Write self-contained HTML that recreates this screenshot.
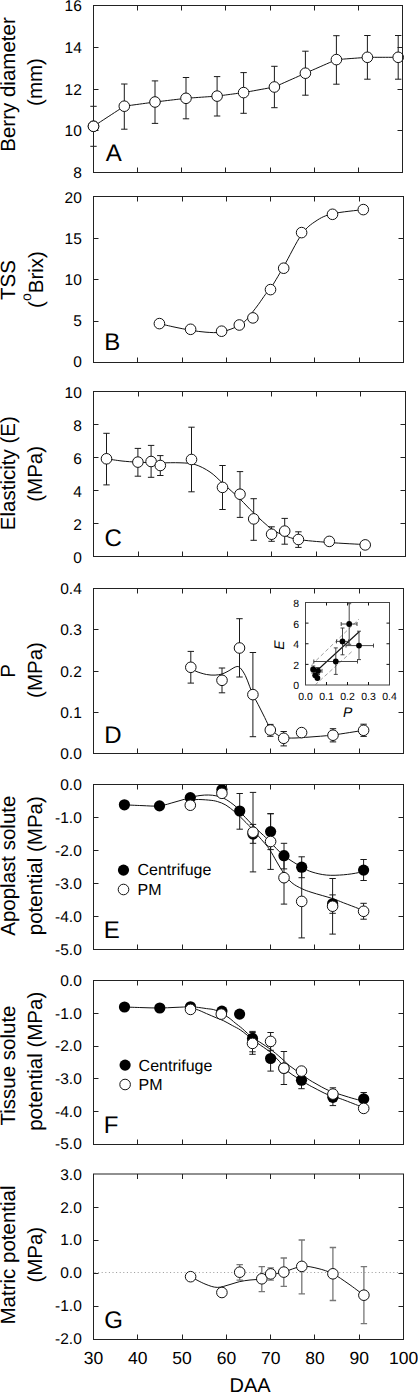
<!DOCTYPE html><html><head><meta charset="utf-8"><style>
html,body{margin:0;padding:0;background:#fff;overflow:hidden;}svg{display:block;}
text{font-family:"Liberation Sans", sans-serif;fill:#000;text-rendering:geometricPrecision;}
</style></head><body>
<svg width="418" height="1393" viewBox="0 0 418 1393">
<rect width="418" height="1393" fill="#fff"/>
<text x="81.8" y="178.1" font-size="15.5" text-anchor="end">8</text>
<text x="81.8" y="136.35" font-size="15.5" text-anchor="end">10</text>
<text x="81.8" y="94.6" font-size="15.5" text-anchor="end">12</text>
<text x="81.8" y="52.85" font-size="15.5" text-anchor="end">14</text>
<text x="81.8" y="11.1" font-size="15.5" text-anchor="end">16</text>
<text x="105.8" y="161.4" font-size="24">A</text>
<text transform="translate(15.3,84.5) rotate(-90)" font-size="20.5" text-anchor="middle">Berry diameter</text>
<text transform="translate(42.3,82) rotate(-90)" font-size="20.5" text-anchor="middle">(mm)</text>
<text x="81.8" y="367.2" font-size="15.5" text-anchor="end">0</text>
<text x="81.8" y="326.08" font-size="15.5" text-anchor="end">5</text>
<text x="81.8" y="284.95" font-size="15.5" text-anchor="end">10</text>
<text x="81.8" y="243.82" font-size="15.5" text-anchor="end">15</text>
<text x="81.8" y="202.7" font-size="15.5" text-anchor="end">20</text>
<text x="104.3" y="350.4" font-size="24">B</text>
<text transform="translate(15.3,280) rotate(-90)" font-size="20.5" text-anchor="middle">TSS</text>
<text transform="translate(43.3,279.5) rotate(-90)" font-size="20.5" text-anchor="middle">(<tspan font-size="14" dy="-12.4">o</tspan><tspan dy="12.4">Brix)</tspan></text>
<text x="81.8" y="563.3" font-size="15.5" text-anchor="end">0</text>
<text x="81.8" y="530.3" font-size="15.5" text-anchor="end">2</text>
<text x="81.8" y="497.3" font-size="15.5" text-anchor="end">4</text>
<text x="81.8" y="464.3" font-size="15.5" text-anchor="end">6</text>
<text x="81.8" y="431.3" font-size="15.5" text-anchor="end">8</text>
<text x="81.8" y="398.3" font-size="15.5" text-anchor="end">10</text>
<text x="104.6" y="546.4" font-size="24">C</text>
<text transform="translate(15.3,473.2) rotate(-90)" font-size="20.5" text-anchor="middle">Elasticity (E)</text>
<text transform="translate(42.3,473.8) rotate(-90)" font-size="20.5" text-anchor="middle">(MPa)</text>
<text x="81.8" y="759.1" font-size="15.5" text-anchor="end">0.0</text>
<text x="81.8" y="717.85" font-size="15.5" text-anchor="end">0.1</text>
<text x="81.8" y="676.6" font-size="15.5" text-anchor="end">0.2</text>
<text x="81.8" y="635.35" font-size="15.5" text-anchor="end">0.3</text>
<text x="81.8" y="594.1" font-size="15.5" text-anchor="end">0.4</text>
<text x="104.3" y="742.9" font-size="24">D</text>
<text transform="translate(15.3,670.8) rotate(-90)" font-size="20.5" text-anchor="middle">P</text>
<text transform="translate(42.3,670) rotate(-90)" font-size="20.5" text-anchor="middle">(MPa)</text>
<text x="81.8" y="955.1" font-size="15.5" text-anchor="end">-5.0</text>
<text x="81.8" y="922.1" font-size="15.5" text-anchor="end">-4.0</text>
<text x="81.8" y="889.1" font-size="15.5" text-anchor="end">-3.0</text>
<text x="81.8" y="856.1" font-size="15.5" text-anchor="end">-2.0</text>
<text x="81.8" y="823.1" font-size="15.5" text-anchor="end">-1.0</text>
<text x="81.8" y="790.1" font-size="15.5" text-anchor="end">0.0</text>
<text x="103.8" y="938.1" font-size="24">E</text>
<text transform="translate(15.3,865.7) rotate(-90)" font-size="20.5" text-anchor="middle">Apoplast solute</text>
<text transform="translate(42.3,865.7) rotate(-90)" font-size="20.5" text-anchor="middle">potential (MPa)</text>
<text x="81.8" y="1149.1" font-size="15.5" text-anchor="end">-5.0</text>
<text x="81.8" y="1116.5" font-size="15.5" text-anchor="end">-4.0</text>
<text x="81.8" y="1083.9" font-size="15.5" text-anchor="end">-3.0</text>
<text x="81.8" y="1051.3" font-size="15.5" text-anchor="end">-2.0</text>
<text x="81.8" y="1018.7" font-size="15.5" text-anchor="end">-1.0</text>
<text x="81.8" y="986.1" font-size="15.5" text-anchor="end">0.0</text>
<text x="103.8" y="1132.5" font-size="24">F</text>
<text transform="translate(15.3,1065.5) rotate(-90)" font-size="20.5" text-anchor="middle">Tissue solute</text>
<text transform="translate(42.3,1061.3) rotate(-90)" font-size="20.5" text-anchor="middle">potential (MPa)</text>
<text x="81.8" y="1344.3" font-size="15.5" text-anchor="end">-2.0</text>
<text x="81.8" y="1311.36" font-size="15.5" text-anchor="end">-1.0</text>
<text x="81.8" y="1278.42" font-size="15.5" text-anchor="end">0.0</text>
<text x="81.8" y="1245.48" font-size="15.5" text-anchor="end">1.0</text>
<text x="81.8" y="1212.54" font-size="15.5" text-anchor="end">2.0</text>
<text x="81.8" y="1179.6" font-size="15.5" text-anchor="end">3.0</text>
<text x="104.3" y="1327.7" font-size="24">G</text>
<text transform="translate(15.3,1255) rotate(-90)" font-size="20.5" text-anchor="middle">Matric potential</text>
<text transform="translate(42.3,1254.7) rotate(-90)" font-size="20.5" text-anchor="middle">(MPa)</text>
<text x="93.5" y="1364" font-size="17.5" text-anchor="middle">30</text>
<text x="137.8" y="1364" font-size="17.5" text-anchor="middle">40</text>
<text x="182.1" y="1364" font-size="17.5" text-anchor="middle">50</text>
<text x="226.4" y="1364" font-size="17.5" text-anchor="middle">60</text>
<text x="270.7" y="1364" font-size="17.5" text-anchor="middle">70</text>
<text x="315" y="1364" font-size="17.5" text-anchor="middle">80</text>
<text x="359.3" y="1364" font-size="17.5" text-anchor="middle">90</text>
<text x="403.6" y="1364" font-size="17.5" text-anchor="middle">100</text>
<text x="250" y="1392.3" font-size="20" text-anchor="middle">DAA</text>
<path d="M93.5,106.3V146.3 M90.3,106.3h6.4 M90.3,146.3h6.4" stroke="#1a1a1a" stroke-width="1.0" fill="none"/>
<path d="M124.3,84V129.2 M121.1,84h6.4 M121.1,129.2h6.4" stroke="#1a1a1a" stroke-width="1.0" fill="none"/>
<path d="M155,80.9V123.4 M151.8,80.9h6.4 M151.8,123.4h6.4" stroke="#1a1a1a" stroke-width="1.0" fill="none"/>
<path d="M186,77.5V118.8 M182.8,77.5h6.4 M182.8,118.8h6.4" stroke="#1a1a1a" stroke-width="1.0" fill="none"/>
<path d="M217.1,76.6V116 M213.9,76.6h6.4 M213.9,116h6.4" stroke="#1a1a1a" stroke-width="1.0" fill="none"/>
<path d="M243.6,72.6V113.3 M240.4,72.6h6.4 M240.4,113.3h6.4" stroke="#1a1a1a" stroke-width="1.0" fill="none"/>
<path d="M274.4,66.3V107.7 M271.2,66.3h6.4 M271.2,107.7h6.4" stroke="#1a1a1a" stroke-width="1.0" fill="none"/>
<path d="M305.4,51.2V95.2 M302.2,51.2h6.4 M302.2,95.2h6.4" stroke="#1a1a1a" stroke-width="1.0" fill="none"/>
<path d="M336.4,35.7V84.2 M333.2,35.7h6.4 M333.2,84.2h6.4" stroke="#1a1a1a" stroke-width="1.0" fill="none"/>
<path d="M367.4,35.5V79.2 M364.2,35.5h6.4 M364.2,79.2h6.4" stroke="#1a1a1a" stroke-width="1.0" fill="none"/>
<path d="M398.2,35.5V79.2 M395,35.5h6.4 M395,79.2h6.4" stroke="#1a1a1a" stroke-width="1.0" fill="none"/>
<path d="M93.5,126.3 C93.5,126.3 124.3,106.2 124.3,106.2 C124.3,106.2 155,102 155,102 C155,102 186,98.3 186,98.3 C186,98.3 217.1,96.1 217.1,96.1 C217.1,96.1 243.6,92.6 243.6,92.6 C243.6,92.6 274.4,87 274.4,87 C274.4,87 305.4,73.2 305.4,73.2 C305.4,73.2 336.4,59.6 336.4,59.6 C336.4,59.6 367.4,57.3 367.4,57.3 C367.4,57.3 398.2,57.3 398.2,57.3" stroke="#111" stroke-width="1.0" fill="none"/>
<circle cx="93.5" cy="126.3" r="5.3" fill="#fff" stroke="#111" stroke-width="1.0"/>
<circle cx="124.3" cy="106.2" r="5.3" fill="#fff" stroke="#111" stroke-width="1.0"/>
<circle cx="155" cy="102" r="5.3" fill="#fff" stroke="#111" stroke-width="1.0"/>
<circle cx="186" cy="98.3" r="5.3" fill="#fff" stroke="#111" stroke-width="1.0"/>
<circle cx="217.1" cy="96.1" r="5.3" fill="#fff" stroke="#111" stroke-width="1.0"/>
<circle cx="243.6" cy="92.6" r="5.3" fill="#fff" stroke="#111" stroke-width="1.0"/>
<circle cx="274.4" cy="87" r="5.3" fill="#fff" stroke="#111" stroke-width="1.0"/>
<circle cx="305.4" cy="73.2" r="5.3" fill="#fff" stroke="#111" stroke-width="1.0"/>
<circle cx="336.4" cy="59.6" r="5.3" fill="#fff" stroke="#111" stroke-width="1.0"/>
<circle cx="367.4" cy="57.3" r="5.3" fill="#fff" stroke="#111" stroke-width="1.0"/>
<circle cx="398.2" cy="57.3" r="5.3" fill="#fff" stroke="#111" stroke-width="1.0"/>
<path d="M159.4,323.6 C162,324.2 169.8,326.1 175,327.2 C180.2,328.3 185.43,329.37 190.6,330.2 C195.77,331.03 200.83,331.9 206,332.2 C211.17,332.5 216.05,333.12 221.6,332 C227.15,330.88 235.15,327.57 239.3,325.5 C243.45,323.43 244.38,321.72 246.5,319.6 C248.62,317.48 250,315.35 252,312.8 C254,310.25 256.25,307.38 258.5,304.3 C260.75,301.22 263.5,296.92 265.5,294.3 C267.5,291.68 267.47,293.23 270.5,288.6 C273.53,283.97 278.52,275.52 283.7,266.5 C288.88,257.48 296.22,242.08 301.6,234.5 C306.98,226.92 310.85,224.45 316,221 C321.15,217.55 324.62,215.7 332.5,213.8 C340.38,211.9 358.17,210.3 363.3,209.6" stroke="#111" stroke-width="1.0" fill="none"/>
<circle cx="159.4" cy="323.6" r="5.3" fill="#fff" stroke="#111" stroke-width="1.0"/>
<circle cx="190.6" cy="329.3" r="5.3" fill="#fff" stroke="#111" stroke-width="1.0"/>
<circle cx="221.6" cy="331.2" r="5.3" fill="#fff" stroke="#111" stroke-width="1.0"/>
<circle cx="239.3" cy="325" r="5.3" fill="#fff" stroke="#111" stroke-width="1.0"/>
<circle cx="252.9" cy="317.9" r="5.3" fill="#fff" stroke="#111" stroke-width="1.0"/>
<circle cx="270.5" cy="289.6" r="5.3" fill="#fff" stroke="#111" stroke-width="1.0"/>
<circle cx="283.7" cy="268.2" r="5.3" fill="#fff" stroke="#111" stroke-width="1.0"/>
<circle cx="301.6" cy="232.6" r="5.3" fill="#fff" stroke="#111" stroke-width="1.0"/>
<circle cx="332.5" cy="214.3" r="5.3" fill="#fff" stroke="#111" stroke-width="1.0"/>
<circle cx="363.3" cy="209.6" r="5.3" fill="#fff" stroke="#111" stroke-width="1.0"/>
<path d="M106.5,433.3V484.9 M103.3,433.3h6.4 M103.3,484.9h6.4" stroke="#1a1a1a" stroke-width="1.0" fill="none"/>
<path d="M137.9,448.4V476.2 M134.7,448.4h6.4 M134.7,476.2h6.4" stroke="#1a1a1a" stroke-width="1.0" fill="none"/>
<path d="M151.1,445.4V477.3 M147.9,445.4h6.4 M147.9,477.3h6.4" stroke="#1a1a1a" stroke-width="1.0" fill="none"/>
<path d="M160.3,455.6V475.5 M157.1,455.6h6.4 M157.1,475.5h6.4" stroke="#1a1a1a" stroke-width="1.0" fill="none"/>
<path d="M191.5,427.2V491.8 M188.3,427.2h6.4 M188.3,491.8h6.4" stroke="#1a1a1a" stroke-width="1.0" fill="none"/>
<path d="M222.5,465.5V509.5 M219.3,465.5h6.4 M219.3,509.5h6.4" stroke="#1a1a1a" stroke-width="1.0" fill="none"/>
<path d="M240,471.6V517.4 M236.8,471.6h6.4 M236.8,517.4h6.4" stroke="#1a1a1a" stroke-width="1.0" fill="none"/>
<path d="M253.7,498.7V540.3 M250.5,498.7h6.4 M250.5,540.3h6.4" stroke="#1a1a1a" stroke-width="1.0" fill="none"/>
<path d="M271.6,526.8V541.3 M268.4,526.8h6.4 M268.4,541.3h6.4" stroke="#1a1a1a" stroke-width="1.0" fill="none"/>
<path d="M284.7,518.4V544.2 M281.5,518.4h6.4 M281.5,544.2h6.4" stroke="#1a1a1a" stroke-width="1.0" fill="none"/>
<path d="M298.4,531.8V547.4 M295.2,531.8h6.4 M295.2,547.4h6.4" stroke="#1a1a1a" stroke-width="1.0" fill="none"/>
<path d="M106.5,458.8 C109.08,459.17 116.77,460.43 122,461 C127.23,461.57 131.57,461.9 137.9,462.2 C144.23,462.5 152.98,462.7 160,462.8 C167.02,462.9 174.17,462.52 180,462.8 C185.83,463.08 190,462.97 195,464.5 C200,466.03 205.42,468.92 210,472 C214.58,475.08 217.5,478.5 222.5,483 C227.5,487.5 234.8,494 240,499 C245.2,504 248.43,508 253.7,513 C258.97,518 266.43,525.25 271.6,529 C276.77,532.75 280.23,533.75 284.7,535.5 C289.17,537.25 290.97,538.33 298.4,539.5 C305.83,540.67 318.17,541.65 329.3,542.5 C340.43,543.35 359.22,544.25 365.2,544.6" stroke="#111" stroke-width="1.0" fill="none"/>
<circle cx="106.5" cy="458.8" r="5.3" fill="#fff" stroke="#111" stroke-width="1.0"/>
<circle cx="137.9" cy="462.1" r="5.3" fill="#fff" stroke="#111" stroke-width="1.0"/>
<circle cx="151.1" cy="461.5" r="5.3" fill="#fff" stroke="#111" stroke-width="1.0"/>
<circle cx="160.3" cy="465.5" r="5.3" fill="#fff" stroke="#111" stroke-width="1.0"/>
<circle cx="191.5" cy="459.5" r="5.3" fill="#fff" stroke="#111" stroke-width="1.0"/>
<circle cx="222.5" cy="487.4" r="5.3" fill="#fff" stroke="#111" stroke-width="1.0"/>
<circle cx="240" cy="494.2" r="5.3" fill="#fff" stroke="#111" stroke-width="1.0"/>
<circle cx="253.7" cy="518.9" r="5.3" fill="#fff" stroke="#111" stroke-width="1.0"/>
<circle cx="271.6" cy="534.2" r="5.3" fill="#fff" stroke="#111" stroke-width="1.0"/>
<circle cx="284.7" cy="531.1" r="5.3" fill="#fff" stroke="#111" stroke-width="1.0"/>
<circle cx="298.4" cy="539.5" r="5.3" fill="#fff" stroke="#111" stroke-width="1.0"/>
<circle cx="329.3" cy="541.4" r="5.3" fill="#fff" stroke="#111" stroke-width="1.0"/>
<circle cx="365.2" cy="544.9" r="5.3" fill="#fff" stroke="#111" stroke-width="1.0"/>
<path d="M190.8,651.4V683.1 M187.6,651.4h6.4 M187.6,683.1h6.4" stroke="#1a1a1a" stroke-width="1.0" fill="none"/>
<path d="M222,668V692.8 M218.8,668h6.4 M218.8,692.8h6.4" stroke="#1a1a1a" stroke-width="1.0" fill="none"/>
<path d="M239.5,618.7V677 M236.3,618.7h6.4 M236.3,677h6.4" stroke="#1a1a1a" stroke-width="1.0" fill="none"/>
<path d="M252.9,652.5V736.7 M249.7,652.5h6.4 M249.7,736.7h6.4" stroke="#1a1a1a" stroke-width="1.0" fill="none"/>
<path d="M270.3,724.4V736.3 M267.1,724.4h6.4 M267.1,736.3h6.4" stroke="#1a1a1a" stroke-width="1.0" fill="none"/>
<path d="M283.7,731.5V745.9 M280.5,731.5h6.4 M280.5,745.9h6.4" stroke="#1a1a1a" stroke-width="1.0" fill="none"/>
<path d="M333,728.7V741.9 M329.8,728.7h6.4 M329.8,741.9h6.4" stroke="#1a1a1a" stroke-width="1.0" fill="none"/>
<path d="M363.6,724.2V736.4 M360.4,724.2h6.4 M360.4,736.4h6.4" stroke="#1a1a1a" stroke-width="1.0" fill="none"/>
<path d="M190.8,667.3 C191.63,667.95 193.18,670 195.8,671.2 C198.42,672.4 203.28,673.85 206.5,674.5 C209.72,675.15 212.52,675.18 215.1,675.1 C217.68,675.02 219.83,674.65 222,674 C224.17,673.35 225.83,672.38 228.1,671.2 C230.37,670.02 233.63,667.5 235.6,666.9 C237.57,666.3 238.28,666.17 239.9,667.6 C241.52,669.03 243.68,672.38 245.3,675.5 C246.92,678.62 248.33,683.12 249.6,686.3 C250.87,689.48 251.47,691.55 252.9,694.6 C254.33,697.65 256.23,700.78 258.2,704.6 C260.17,708.42 262.68,713.52 264.7,717.5 C266.72,721.48 268.25,725.67 270.3,728.5 C272.35,731.33 274.77,732.98 277,734.5 C279.23,736.02 280.7,737.02 283.7,737.6 C286.7,738.18 290.62,738.1 295,738 C299.38,737.9 303.67,737.5 310,737 C316.33,736.5 324.07,736.12 333,735 C341.93,733.88 358.5,731.08 363.6,730.3" stroke="#111" stroke-width="1.0" fill="none"/>
<circle cx="190.8" cy="667.3" r="5.3" fill="#fff" stroke="#111" stroke-width="1.0"/>
<circle cx="222" cy="680.3" r="5.3" fill="#fff" stroke="#111" stroke-width="1.0"/>
<circle cx="239.5" cy="648" r="5.3" fill="#fff" stroke="#111" stroke-width="1.0"/>
<circle cx="252.9" cy="694.6" r="5.3" fill="#fff" stroke="#111" stroke-width="1.0"/>
<circle cx="270.3" cy="730" r="5.3" fill="#fff" stroke="#111" stroke-width="1.0"/>
<circle cx="283.7" cy="738.3" r="5.3" fill="#fff" stroke="#111" stroke-width="1.0"/>
<circle cx="301.6" cy="732.6" r="5.3" fill="#fff" stroke="#111" stroke-width="1.0"/>
<circle cx="333" cy="735.2" r="5.3" fill="#fff" stroke="#111" stroke-width="1.0"/>
<circle cx="363.6" cy="730.3" r="5.3" fill="#fff" stroke="#111" stroke-width="1.0"/>
<rect x="305.5" y="602.5" width="84.0" height="82.5" fill="#fff" stroke="#444" stroke-width="1"/>
<path d="M326.5,602.5v3 M326.5,685v-3 M305.5,664.38h3 M389.5,664.38h-3 M347.5,602.5v3 M347.5,685v-3 M305.5,643.75h3 M389.5,643.75h-3 M368.5,602.5v3 M368.5,685v-3 M305.5,623.12h3 M389.5,623.12h-3" stroke="#111" stroke-width="1" fill="none"/>
<text x="299" y="689.4" font-size="10.5" text-anchor="end">0</text>
<text x="299" y="668.77" font-size="10.5" text-anchor="end">2</text>
<text x="299" y="648.15" font-size="10.5" text-anchor="end">4</text>
<text x="299" y="627.52" font-size="10.5" text-anchor="end">6</text>
<text x="299" y="606.9" font-size="10.5" text-anchor="end">8</text>
<text x="305.5" y="700.3" font-size="10.5" text-anchor="middle">0.0</text>
<text x="326.5" y="700.3" font-size="10.5" text-anchor="middle">0.1</text>
<text x="347.5" y="700.3" font-size="10.5" text-anchor="middle">0.2</text>
<text x="368.5" y="700.3" font-size="10.5" text-anchor="middle">0.3</text>
<text x="389.5" y="700.3" font-size="10.5" text-anchor="middle">0.4</text>
<text x="347.7" y="716.8" font-size="14" font-style="italic" text-anchor="middle">P</text>
<text transform="translate(284.4,645.2) rotate(-90)" font-size="14" font-style="italic" text-anchor="middle">E</text>
<path d="M316,671.5 L359.4,631.5" stroke="#111" stroke-width="1.1" fill="none"/>
<path d="M311.5,665 L359,619" stroke="#888" stroke-width="0.8" stroke-dasharray="4,2.5" fill="none"/>
<path d="M315,685 L352.5,651" stroke="#888" stroke-width="0.8" stroke-dasharray="4,2.5" fill="none"/>
<path d="M341.2,624H357 M349.2,603.7V644.3 M341.2,622v4 M357,622v4 M347.2,603.7h4 M347.2,644.3h4" stroke="#333" stroke-width="0.9" fill="none"/>
<path d="M336.5,641.4H348.5 M342.5,628V654.8 M336.5,639.4v4 M348.5,639.4v4 M340.5,628h4 M340.5,654.8h4" stroke="#333" stroke-width="0.9" fill="none"/>
<path d="M346,645.6H373.5 M359,631.2V659.6 M346,643.6v4 M373.5,643.6v4 M357,631.2h4 M357,659.6h4" stroke="#333" stroke-width="0.9" fill="none"/>
<path d="M313.8,661.5H357.5 M335.8,647.9V674.4 M313.8,659.5v4 M357.5,659.5v4 M333.8,647.9h4 M333.8,674.4h4" stroke="#333" stroke-width="0.9" fill="none"/>
<path d="M311,669.4H316 M313.3,666V673 M311,667.4v4 M316,667.4v4 M311.3,666h4 M311.3,673h4" stroke="#333" stroke-width="0.9" fill="none"/>
<path d="M314,670.9H322 M318,667.5V674.5 M314,668.9v4 M322,668.9v4 M316,667.5h4 M316,674.5h4" stroke="#333" stroke-width="0.9" fill="none"/>
<circle cx="349.2" cy="624" r="2.9" fill="#000"/>
<circle cx="342.5" cy="641.4" r="2.9" fill="#000"/>
<circle cx="359" cy="645.6" r="2.9" fill="#000"/>
<circle cx="335.8" cy="661.5" r="2.9" fill="#000"/>
<circle cx="313.3" cy="669.4" r="2.9" fill="#000"/>
<circle cx="318" cy="670.9" r="2.9" fill="#000"/>
<circle cx="315.2" cy="675.3" r="2.9" fill="#000"/>
<circle cx="317.4" cy="678" r="2.9" fill="#000"/>
<path d="M239.7,793.5V829.2 M236.5,793.5h6.4 M236.5,829.2h6.4" stroke="#1a1a1a" stroke-width="1.0" fill="none"/>
<path d="M253,824.4V843.3 M249.8,824.4h6.4 M249.8,843.3h6.4" stroke="#1a1a1a" stroke-width="1.0" fill="none"/>
<path d="M270.6,813.8V849.6 M267.4,813.8h6.4 M267.4,849.6h6.4" stroke="#1a1a1a" stroke-width="1.0" fill="none"/>
<path d="M284,843.3V868.9 M280.8,843.3h6.4 M280.8,868.9h6.4" stroke="#1a1a1a" stroke-width="1.0" fill="none"/>
<path d="M301.7,856.8V877.7 M298.5,856.8h6.4 M298.5,877.7h6.4" stroke="#1a1a1a" stroke-width="1.0" fill="none"/>
<path d="M332.6,894.9V913.3 M329.4,894.9h6.4 M329.4,913.3h6.4" stroke="#1a1a1a" stroke-width="1.0" fill="none"/>
<path d="M363.6,859.5V880.5 M360.4,859.5h6.4 M360.4,880.5h6.4" stroke="#1a1a1a" stroke-width="1.0" fill="none"/>
<path d="M253,792.4V871.9 M249.8,792.4h6.4 M249.8,871.9h6.4" stroke="#1a1a1a" stroke-width="1.0" fill="none"/>
<path d="M270.6,813.6V869.4 M267.4,813.6h6.4 M267.4,869.4h6.4" stroke="#1a1a1a" stroke-width="1.0" fill="none"/>
<path d="M284,851.3V904.1 M280.8,851.3h6.4 M280.8,904.1h6.4" stroke="#1a1a1a" stroke-width="1.0" fill="none"/>
<path d="M301.7,864.9V937.9 M298.5,864.9h6.4 M298.5,937.9h6.4" stroke="#1a1a1a" stroke-width="1.0" fill="none"/>
<path d="M332.6,878.5V934.1 M329.4,878.5h6.4 M329.4,934.1h6.4" stroke="#1a1a1a" stroke-width="1.0" fill="none"/>
<path d="M363.6,903.3V919.2 M360.4,903.3h6.4 M360.4,919.2h6.4" stroke="#1a1a1a" stroke-width="1.0" fill="none"/>
<path d="M124.4,804.8 C127.33,804.93 136.15,805.42 142,805.6 C147.85,805.78 154,806.5 159.5,805.9 C165,805.3 169.87,803.38 175,802 C180.13,800.62 186.13,798.68 190.3,797.6 C194.47,796.52 196.93,795.93 200,795.5 C203.07,795.07 206.05,794.95 208.7,795 C211.35,795.05 213.5,795.32 215.9,795.8 C218.3,796.28 220.72,796.83 223.1,797.9 C225.48,798.97 227.82,800.52 230.2,802.2 C232.58,803.88 235.32,805.93 237.4,808 C239.48,810.07 239.75,811.35 242.7,814.6 C245.65,817.85 251.27,823.68 255.1,827.5 C258.93,831.32 263.15,835.03 265.7,837.5 C268.25,839.97 267.35,839.27 270.4,842.3 C273.45,845.33 278.75,851.55 284,855.7 C289.25,859.85 297.23,864.48 301.9,867.2 C306.57,869.92 307.87,870.68 312,872 C316.13,873.32 321.45,874.63 326.7,875.1 C331.95,875.57 338.18,875.22 343.5,874.8 C348.82,874.38 355.25,873.38 358.6,872.6 C361.95,871.82 362.77,870.52 363.6,870.1" stroke="#111" stroke-width="1.0" fill="none"/>
<path d="M190.3,802 C191.22,801.6 192.73,799.92 195.8,799.6 C198.87,799.28 205.12,799.78 208.7,800.1 C212.28,800.42 214.43,800.67 217.3,801.5 C220.17,802.33 223.03,803.42 225.9,805.1 C228.77,806.78 232.02,809.55 234.5,811.6 C236.98,813.65 238,814.67 240.8,817.4 C243.6,820.13 248.43,824.97 251.3,828 C254.17,831.03 255.77,833.05 258,835.6 C260.23,838.15 262.7,840.88 264.7,843.3 C266.7,845.72 267.98,847 270,850.1 C272.02,853.2 274.47,857.98 276.8,861.9 C279.13,865.82 281.48,870.12 284,873.6 C286.52,877.08 288.92,880.28 291.9,882.8 C294.88,885.32 298.55,887.08 301.9,888.7 C305.25,890.32 306.88,890.85 312,892.5 C317.12,894.15 327.35,896.88 332.6,898.6 C337.85,900.32 339.17,901.13 343.5,902.8 C347.83,904.47 355.25,907.18 358.6,908.6 C361.95,910.02 362.77,910.85 363.6,911.3" stroke="#111" stroke-width="1.0" fill="none"/>
<circle cx="124.4" cy="804.8" r="5.6" fill="#000"/>
<circle cx="159.5" cy="805.9" r="5.6" fill="#000"/>
<circle cx="190.3" cy="797.6" r="5.6" fill="#000"/>
<circle cx="221.9" cy="789.6" r="5.6" fill="#000"/>
<circle cx="239.7" cy="811" r="5.6" fill="#000"/>
<circle cx="253" cy="834" r="5.6" fill="#000"/>
<circle cx="270.6" cy="831.6" r="5.6" fill="#000"/>
<circle cx="284" cy="855.7" r="5.6" fill="#000"/>
<circle cx="301.7" cy="867.2" r="5.6" fill="#000"/>
<circle cx="332.6" cy="903.8" r="5.6" fill="#000"/>
<circle cx="363.6" cy="870.1" r="5.6" fill="#000"/>
<circle cx="190.3" cy="805.2" r="5.3" fill="#fff" stroke="#111" stroke-width="1.0"/>
<circle cx="221.9" cy="793.3" r="5.3" fill="#fff" stroke="#111" stroke-width="1.0"/>
<circle cx="253" cy="832.2" r="5.3" fill="#fff" stroke="#111" stroke-width="1.0"/>
<circle cx="270.6" cy="841.5" r="5.3" fill="#fff" stroke="#111" stroke-width="1.0"/>
<circle cx="284" cy="877.7" r="5.3" fill="#fff" stroke="#111" stroke-width="1.0"/>
<circle cx="301.7" cy="901.4" r="5.3" fill="#fff" stroke="#111" stroke-width="1.0"/>
<circle cx="332.6" cy="906.2" r="5.3" fill="#fff" stroke="#111" stroke-width="1.0"/>
<circle cx="363.6" cy="911.3" r="5.3" fill="#fff" stroke="#111" stroke-width="1.0"/>
<circle cx="123.5" cy="870.1" r="5.6" fill="#000"/>
<text x="137.5" y="875.4" font-size="16">Centrifuge</text>
<circle cx="123.5" cy="889.5" r="5.3" fill="#fff" stroke="#111" stroke-width="1.0"/>
<text x="137.5" y="894.6" font-size="16">PM</text>
<path d="M252.5,1031.4V1051.8 M249.3,1031.4h6.4 M249.3,1051.8h6.4" stroke="#1a1a1a" stroke-width="1.0" fill="none"/>
<path d="M270.6,1045.9V1071.1 M267.4,1045.9h6.4 M267.4,1071.1h6.4" stroke="#1a1a1a" stroke-width="1.0" fill="none"/>
<path d="M301.5,1071.7V1088.7 M298.3,1071.7h6.4 M298.3,1088.7h6.4" stroke="#1a1a1a" stroke-width="1.0" fill="none"/>
<path d="M332.9,1087.8V1105.6 M329.7,1087.8h6.4 M329.7,1105.6h6.4" stroke="#1a1a1a" stroke-width="1.0" fill="none"/>
<path d="M363.7,1092.5V1105.3 M360.5,1092.5h6.4 M360.5,1105.3h6.4" stroke="#1a1a1a" stroke-width="1.0" fill="none"/>
<path d="M252.5,1032.5V1054.3 M249.3,1032.5h6.4 M249.3,1054.3h6.4" stroke="#1a1a1a" stroke-width="1.0" fill="none"/>
<path d="M270.6,1032.5V1050.3 M267.4,1032.5h6.4 M267.4,1050.3h6.4" stroke="#1a1a1a" stroke-width="1.0" fill="none"/>
<path d="M283.9,1051.5V1084.5 M280.7,1051.5h6.4 M280.7,1084.5h6.4" stroke="#1a1a1a" stroke-width="1.0" fill="none"/>
<path d="M124.5,1007 C127.42,1007.1 136.12,1007.43 142,1007.6 C147.88,1007.77 154.3,1008.03 159.8,1008 C165.3,1007.97 169.88,1007.6 175,1007.4 C180.12,1007.2 186.93,1006.83 190.5,1006.8 C194.07,1006.77 193.73,1006.9 196.4,1007.2 C199.07,1007.5 203.27,1008.08 206.5,1008.6 C209.73,1009.12 212.22,1008.87 215.8,1010.3 C219.38,1011.73 224.77,1015.08 228,1017.2 C231.23,1019.32 232.8,1021.08 235.2,1023 C237.6,1024.92 239.5,1026.2 242.4,1028.7 C245.3,1031.2 249.82,1035.83 252.6,1038 C255.38,1040.17 255.82,1039.58 259.1,1041.7 C262.38,1043.82 268.1,1047.5 272.3,1050.7 C276.5,1053.9 281.47,1058.43 284.3,1060.9 C287.13,1063.37 285.58,1062.65 289.3,1065.5 C293.02,1068.35 302.32,1075.05 306.6,1078 C310.88,1080.95 311.3,1081.12 315,1083.2 C318.7,1085.28 323.8,1088.37 328.8,1090.5 C333.8,1092.63 340.23,1094.48 345,1096 C349.77,1097.52 354.28,1098.88 357.4,1099.6 C360.52,1100.32 362.65,1100.18 363.7,1100.3" stroke="#111" stroke-width="1.0" fill="none"/>
<path d="M190.5,1009.4 C191.48,1009.4 193.73,1008.7 196.4,1009.4 C199.07,1010.1 203.15,1012.18 206.5,1013.6 C209.85,1015.02 213.63,1016.7 216.5,1017.9 C219.37,1019.1 221.07,1019.53 223.7,1020.8 C226.33,1022.07 229.43,1023.92 232.3,1025.5 C235.17,1027.08 237.52,1027.97 240.9,1030.3 C244.28,1032.63 249.75,1037.3 252.6,1039.5 C255.45,1041.7 255.12,1041.43 258,1043.5 C260.88,1045.57 266.32,1048.9 269.9,1051.9 C273.48,1054.9 276.5,1058.23 279.5,1061.5 C282.5,1064.77 283.38,1067.8 287.9,1071.5 C292.42,1075.2 302.08,1080.9 306.6,1083.7 C311.12,1086.5 311.53,1086.5 315,1088.3 C318.47,1090.1 323.2,1092.78 327.4,1094.5 C331.6,1096.22 334.88,1096.68 340.2,1098.6 C345.52,1100.52 355.38,1104.37 359.3,1106 C363.22,1107.63 362.97,1108 363.7,1108.4" stroke="#111" stroke-width="1.0" fill="none"/>
<circle cx="124.5" cy="1007" r="5.6" fill="#000"/>
<circle cx="159.8" cy="1008" r="5.6" fill="#000"/>
<circle cx="190.5" cy="1006.8" r="5.6" fill="#000"/>
<circle cx="221.9" cy="1011.1" r="5.6" fill="#000"/>
<circle cx="239.6" cy="1014.1" r="5.6" fill="#000"/>
<circle cx="252.5" cy="1038.4" r="5.6" fill="#000"/>
<circle cx="270.6" cy="1058.5" r="5.6" fill="#000"/>
<circle cx="283.9" cy="1068.2" r="5.6" fill="#000"/>
<circle cx="301.5" cy="1080.2" r="5.6" fill="#000"/>
<circle cx="332.9" cy="1097.3" r="5.6" fill="#000"/>
<circle cx="363.7" cy="1098.9" r="5.6" fill="#000"/>
<circle cx="190.5" cy="1009.4" r="5.3" fill="#fff" stroke="#111" stroke-width="1.0"/>
<circle cx="221.3" cy="1014.1" r="5.3" fill="#fff" stroke="#111" stroke-width="1.0"/>
<circle cx="252.5" cy="1043.4" r="5.3" fill="#fff" stroke="#111" stroke-width="1.0"/>
<circle cx="270.6" cy="1041.4" r="5.3" fill="#fff" stroke="#111" stroke-width="1.0"/>
<circle cx="283.9" cy="1068.2" r="5.3" fill="#fff" stroke="#111" stroke-width="1.0"/>
<circle cx="301.5" cy="1071.1" r="5.3" fill="#fff" stroke="#111" stroke-width="1.0"/>
<circle cx="332.9" cy="1094.1" r="5.3" fill="#fff" stroke="#111" stroke-width="1.0"/>
<circle cx="363.7" cy="1108.4" r="5.3" fill="#fff" stroke="#111" stroke-width="1.0"/>
<circle cx="125.1" cy="1065.1" r="5.6" fill="#000"/>
<text x="138.6" y="1070.6" font-size="16">Centrifuge</text>
<circle cx="125.1" cy="1084.5" r="5.3" fill="#fff" stroke="#111" stroke-width="1.0"/>
<text x="138.6" y="1090" font-size="16">PM</text>
<path d="M94.5,1272.5H403" stroke="#999" stroke-width="1" stroke-dasharray="1,2.6" fill="none"/>
<path d="M239.7,1264.7V1280.2 M236.5,1264.7h6.4 M236.5,1280.2h6.4" stroke="#777" stroke-width="1.3" fill="none"/>
<path d="M261.8,1266.7V1291.7 M258.6,1266.7h6.4 M258.6,1291.7h6.4" stroke="#777" stroke-width="1.3" fill="none"/>
<path d="M270.7,1267.8V1280.2 M267.5,1267.8h6.4 M267.5,1280.2h6.4" stroke="#777" stroke-width="1.3" fill="none"/>
<path d="M283.8,1258V1286.3 M280.6,1258h6.4 M280.6,1286.3h6.4" stroke="#777" stroke-width="1.3" fill="none"/>
<path d="M301.8,1240V1293.8 M298.6,1240h6.4 M298.6,1293.8h6.4" stroke="#777" stroke-width="1.3" fill="none"/>
<path d="M332.9,1247.5V1300.5 M329.7,1247.5h6.4 M329.7,1300.5h6.4" stroke="#777" stroke-width="1.3" fill="none"/>
<path d="M363.9,1266.7V1323.7 M360.7,1266.7h6.4 M360.7,1323.7h6.4" stroke="#777" stroke-width="1.3" fill="none"/>
<path d="M190.6,1276.7 C193,1277.92 200.55,1282.22 205,1284 C209.45,1285.78 213.13,1287.32 217.3,1287.4 C221.47,1287.48 226.27,1285.47 230,1284.5 C233.73,1283.53 236.37,1282.35 239.7,1281.6 C243.03,1280.85 246.32,1280.47 250,1280 C253.68,1279.53 258.35,1279.67 261.8,1278.8 C265.25,1277.93 267.03,1275.93 270.7,1274.8 C274.37,1273.67 278.62,1273.4 283.8,1272 C288.98,1270.6 296.1,1266.98 301.8,1266.4 C307.5,1265.82 312.82,1267.27 318,1268.5 C323.18,1269.73 327.9,1271.3 332.9,1273.8 C337.9,1276.3 342.83,1279.93 348,1283.5 C353.17,1287.07 361.25,1293.25 363.9,1295.2" stroke="#111" stroke-width="1.0" fill="none"/>
<circle cx="190.6" cy="1276.7" r="5.3" fill="#fff" stroke="#111" stroke-width="1.0"/>
<circle cx="221.9" cy="1292.5" r="5.3" fill="#fff" stroke="#111" stroke-width="1.0"/>
<circle cx="239.7" cy="1272.2" r="5.3" fill="#fff" stroke="#111" stroke-width="1.0"/>
<circle cx="261.8" cy="1278.8" r="5.3" fill="#fff" stroke="#111" stroke-width="1.0"/>
<circle cx="270.7" cy="1273.9" r="5.3" fill="#fff" stroke="#111" stroke-width="1.0"/>
<circle cx="283.8" cy="1272.1" r="5.3" fill="#fff" stroke="#111" stroke-width="1.0"/>
<circle cx="301.8" cy="1266.4" r="5.3" fill="#fff" stroke="#111" stroke-width="1.0"/>
<circle cx="332.9" cy="1273.8" r="5.3" fill="#fff" stroke="#111" stroke-width="1.0"/>
<circle cx="363.9" cy="1295.2" r="5.3" fill="#fff" stroke="#111" stroke-width="1.0"/>
<rect x="93.5" y="5.5" width="309" height="167" fill="none" stroke="#222" stroke-width="1"/>
<path d="M137.5,5.5v5 M137.5,172.5v-5 M181.5,5.5v5 M181.5,172.5v-5 M225.5,5.5v5 M225.5,172.5v-5 M270.5,5.5v5 M270.5,172.5v-5 M314.5,5.5v5 M314.5,172.5v-5 M358.5,5.5v5 M358.5,172.5v-5 M93.5,130.5h5 M402.5,130.5h-5 M93.5,89.5h5 M402.5,89.5h-5 M93.5,47.5h5 M402.5,47.5h-5" stroke="#222" stroke-width="1" fill="none"/>
<rect x="93.5" y="196.5" width="310" height="166" fill="none" stroke="#222" stroke-width="1"/>
<path d="M137.5,196.5v5 M137.5,362.5v-5 M182.5,196.5v5 M182.5,362.5v-5 M226.5,196.5v5 M226.5,362.5v-5 M270.5,196.5v5 M270.5,362.5v-5 M314.5,196.5v5 M314.5,362.5v-5 M359.5,196.5v5 M359.5,362.5v-5 M93.5,321.5h5 M403.5,321.5h-5 M93.5,279.5h5 M403.5,279.5h-5 M93.5,238.5h5 M403.5,238.5h-5" stroke="#222" stroke-width="1" fill="none"/>
<rect x="93.5" y="391.5" width="312" height="165" fill="none" stroke="#222" stroke-width="1"/>
<path d="M138.5,391.5v5 M138.5,556.5v-5 M182.5,391.5v5 M182.5,556.5v-5 M227.5,391.5v5 M227.5,556.5v-5 M271.5,391.5v5 M271.5,556.5v-5 M316.5,391.5v5 M316.5,556.5v-5 M360.5,391.5v5 M360.5,556.5v-5 M93.5,523.5h5 M405.5,523.5h-5 M93.5,490.5h5 M405.5,490.5h-5 M93.5,457.5h5 M405.5,457.5h-5 M93.5,424.5h5 M405.5,424.5h-5" stroke="#222" stroke-width="1" fill="none"/>
<rect x="93.5" y="588.5" width="310" height="165" fill="none" stroke="#222" stroke-width="1"/>
<path d="M137.5,588.5v5 M137.5,753.5v-5 M182.5,588.5v5 M182.5,753.5v-5 M226.5,588.5v5 M226.5,753.5v-5 M270.5,588.5v5 M270.5,753.5v-5 M314.5,588.5v5 M314.5,753.5v-5 M359.5,588.5v5 M359.5,753.5v-5 M93.5,712.5h5 M403.5,712.5h-5 M93.5,671.5h5 M403.5,671.5h-5 M93.5,629.5h5 M403.5,629.5h-5" stroke="#222" stroke-width="1" fill="none"/>
<rect x="93.5" y="784.5" width="310" height="165" fill="none" stroke="#222" stroke-width="1"/>
<path d="M137.5,784.5v5 M137.5,949.5v-5 M182.5,784.5v5 M182.5,949.5v-5 M226.5,784.5v5 M226.5,949.5v-5 M270.5,784.5v5 M270.5,949.5v-5 M314.5,784.5v5 M314.5,949.5v-5 M359.5,784.5v5 M359.5,949.5v-5 M93.5,916.5h5 M403.5,916.5h-5 M93.5,883.5h5 M403.5,883.5h-5 M93.5,850.5h5 M403.5,850.5h-5 M93.5,817.5h5 M403.5,817.5h-5" stroke="#222" stroke-width="1" fill="none"/>
<rect x="93.5" y="980.5" width="310" height="164" fill="none" stroke="#222" stroke-width="1"/>
<path d="M137.5,980.5v5 M137.5,1144.5v-5 M182.5,980.5v5 M182.5,1144.5v-5 M226.5,980.5v5 M226.5,1144.5v-5 M270.5,980.5v5 M270.5,1144.5v-5 M314.5,980.5v5 M314.5,1144.5v-5 M359.5,980.5v5 M359.5,1144.5v-5 M93.5,1111.5h5 M403.5,1111.5h-5 M93.5,1078.5h5 M403.5,1078.5h-5 M93.5,1046.5h5 M403.5,1046.5h-5 M93.5,1013.5h5 M403.5,1013.5h-5" stroke="#222" stroke-width="1" fill="none"/>
<rect x="93.5" y="1174" width="310" height="165.5" fill="none" stroke="#222" stroke-width="1"/>
<path d="M137.5,1174v5 M137.5,1339.5v-5 M182.5,1174v5 M182.5,1339.5v-5 M226.5,1174v5 M226.5,1339.5v-5 M270.5,1174v5 M270.5,1339.5v-5 M314.5,1174v5 M314.5,1339.5v-5 M359.5,1174v5 M359.5,1339.5v-5 M93.5,1306.5h5 M403.5,1306.5h-5 M93.5,1273.5h5 M403.5,1273.5h-5 M93.5,1240.5h5 M403.5,1240.5h-5 M93.5,1207.5h5 M403.5,1207.5h-5" stroke="#222" stroke-width="1" fill="none"/>
<circle cx="93.5" cy="126.3" r="5.3" fill="#fff" stroke="#111" stroke-width="1.0"/>
</svg></body></html>
